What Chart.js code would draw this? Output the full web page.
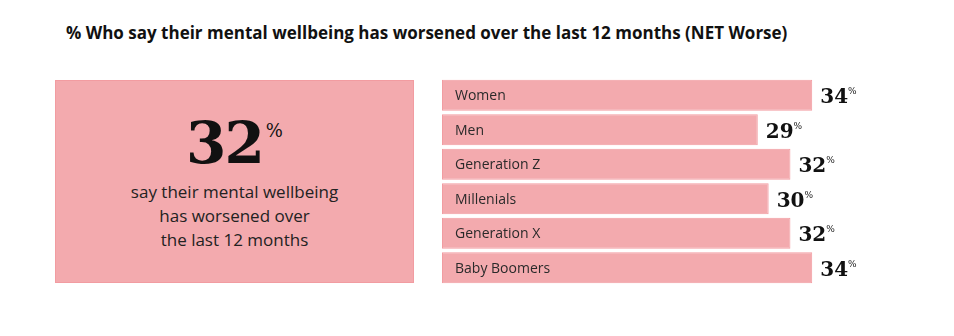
<!DOCTYPE html>
<html>
<head>
<meta charset="utf-8">
<script src="https://cdn.jsdelivr.net/npm/chart.js@4/dist/chart.umd.min.js"></script>
<style>
  html, body { margin: 0; padding: 0; background: #fff; }
  #wrap { position: relative; width: 954px; height: 336px; overflow: hidden; }
  #title { position: absolute; left: 66px; top: 21px; font: 700 17px "Open Sans", sans-serif; color: #111; white-space: nowrap; }
  #box { position: absolute; left: 55px; top: 80px; width: 357px; height: 201px; background: #F3AAAE; border: 1px solid #F29CA1; text-align: center; color: #222; }
  #big { position: absolute; left: 0; right: 0; top: 32px; font: 700 58px "DejaVu Serif", serif; line-height: 60px; letter-spacing: -2px; color: #111; }
  #big sup { font: 400 18px "DejaVu Serif", serif; vertical-align: 26px; letter-spacing: 0; margin-left: 3px; }
  #sub { position: absolute; left: 0; right: 0; top: 99px; font: 400 17px "Open Sans", sans-serif; line-height: 24px; }
  canvas { position: absolute; left: 0; top: 0; }
</style>
</head>
<body>
<div id="wrap">
  <div id="title"></div>
  <div id="box"><div id="big"></div><div id="sub"></div></div>
  <canvas id="c" width="954" height="336"></canvas>
</div>
<script>
const titleText = "% Who say their mental wellbeing has worsened over the last 12 months (NET Worse)";
const overallValue = [32];
const overallLines = ["say their mental wellbeing", "has worsened over", "the last 12 months"];
const categories = ["Women", "Men", "Generation Z", "Millenials", "Generation X", "Baby Boomers"];
const values = [34, 29, 32, 30, 32, 34];

document.getElementById('title').textContent = titleText;
document.getElementById('big').innerHTML = overallValue[0] + '<sup>%</sup>';
document.getElementById('sub').innerHTML = overallLines.join('<br>');

const labelPlugin = {
  id: 'labels',
  afterDatasetsDraw(chart) {
    const ctx = chart.ctx;
    const meta = chart.getDatasetMeta(0);
    ctx.save();
    meta.data.forEach((bar, i) => {
      ctx.fillStyle = '#2a2a2a';
      ctx.font = '400 14px "Open Sans", sans-serif';
      ctx.textAlign = 'left';
      ctx.textBaseline = 'middle';
      ctx.fillText(categories[i], bar.base + 13, bar.y + 1);
      ctx.fillStyle = '#111';
      ctx.font = '700 20px "DejaVu Serif", serif';
      ctx.textBaseline = 'alphabetic';
      const vx = bar.x + 8;
      const txt = String(values[i]);
      ctx.fillText(txt, vx, bar.y + 8);
      const w = ctx.measureText(txt).width;
      ctx.font = '400 9px "DejaVu Serif", serif';
      ctx.fillText('%', vx + w, bar.y - 1);
    });
    ctx.restore();
  }
};

new Chart(document.getElementById('c'), {
  type: 'bar',
  data: {
    labels: categories,
    datasets: [{
      data: values,
      backgroundColor: '#F3AAAE',
      borderColor: '#F29CA1',
      borderWidth: 1,
      borderSkipped: false,
      barPercentage: 0.9,
      categoryPercentage: 1.0
    }]
  },
  options: {
    indexAxis: 'y',
    responsive: false,
    animation: false,
    layout: { padding: { left: 442, right: 22, top: 78, bottom: 51 } },
    scales: {
      x: { display: false, min: 0, max: 45 },
      y: { display: false }
    },
    plugins: { legend: { display: false }, tooltip: { enabled: false }, title: { display: false } }
  },
  plugins: [labelPlugin]
});
</script>
</body>
</html>
